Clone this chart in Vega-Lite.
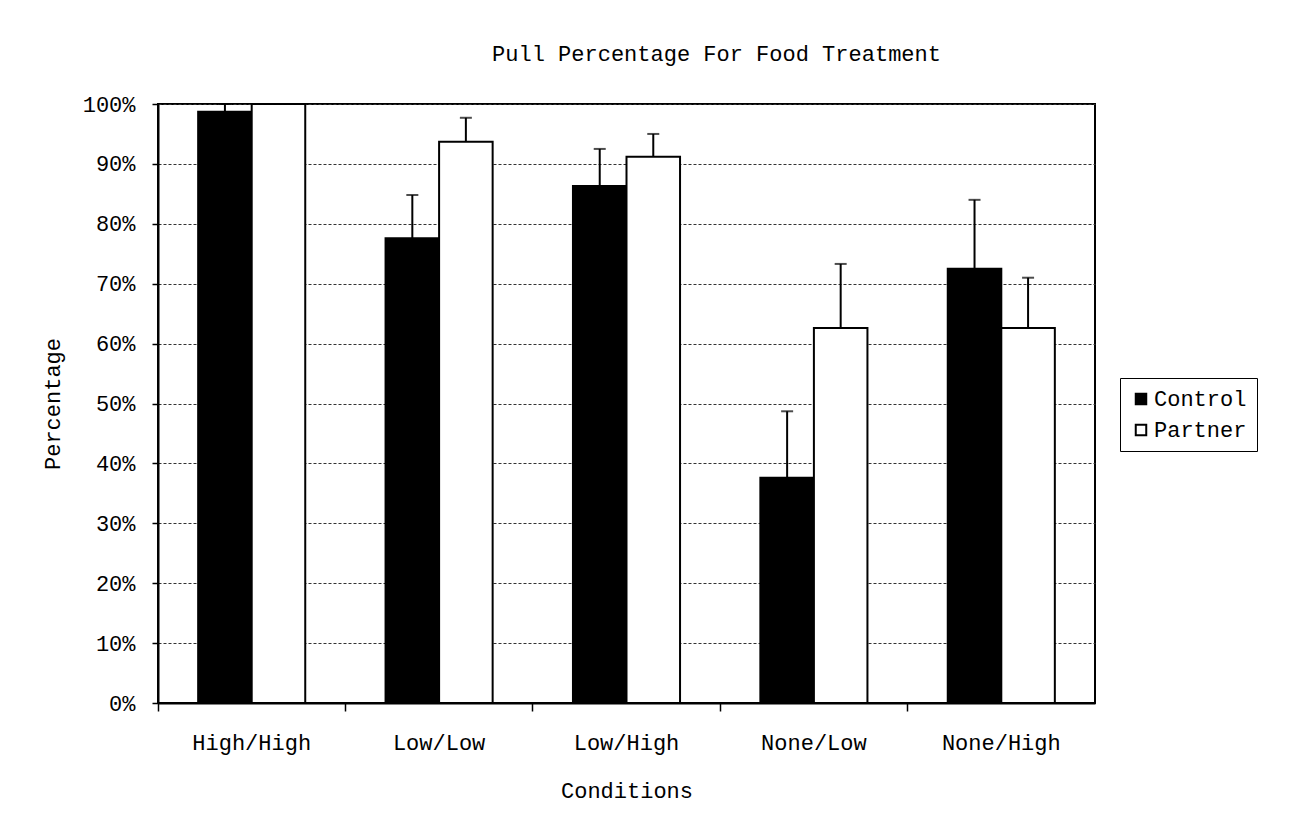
{
  "$schema": "https://vega.github.io/schema/vega-lite/v6.json",
  "autosize": {"type": "none"},
  "width": 937,
  "height": 599,
  "padding": {"left": 158, "top": 104, "right": 194, "bottom": 120},
  "background": "white",
  "title": {
    "text": "Pull Percentage For Food Treatment",
    "font": "Liberation Mono",
    "fontSize": 22,
    "fontWeight": "normal",
    "color": "black",
    "dx": 90,
    "offset": 27
  },
  "config": {
    "view": {"stroke": "black", "strokeWidth": 2},
    "font": "Liberation Mono"
  },
  "data": {
    "values": [
      {"condition": "High/High", "group": "Control", "value": 98.7, "upper": 100},
      {"condition": "High/High", "group": "Partner", "value": 100, "upper": 100},
      {"condition": "Low/Low", "group": "Control", "value": 77.6, "upper": 84.8},
      {"condition": "Low/Low", "group": "Partner", "value": 93.7, "upper": 97.7},
      {"condition": "Low/High", "group": "Control", "value": 86.3, "upper": 92.5},
      {"condition": "Low/High", "group": "Partner", "value": 91.2, "upper": 95.0},
      {"condition": "None/Low", "group": "Control", "value": 37.6, "upper": 48.7},
      {"condition": "None/Low", "group": "Partner", "value": 62.6, "upper": 73.3},
      {"condition": "None/High", "group": "Control", "value": 72.5, "upper": 84.0},
      {"condition": "None/High", "group": "Partner", "value": 62.6, "upper": 71.0}
    ]
  },
  "encoding": {
    "x": {
      "field": "condition",
      "type": "nominal",
      "sort": ["High/High", "Low/Low", "Low/High", "None/Low", "None/High"],
      "scale": {"paddingInner": 0, "paddingOuter": 0},
      "axis": {
        "title": "Conditions",
        "titleFont": "Liberation Mono",
        "titleFontSize": 22,
        "titleFontWeight": "normal",
        "titleColor": "black",
        "titlePadding": 27,
        "labelFont": "Liberation Mono",
        "labelFontSize": 22,
        "labelColor": "black",
        "labelAngle": 0,
        "labelPadding": 21,
        "bandPosition": 0,
        "tickSize": 8,
        "tickColor": "black",
        "tickWidth": 1.5,
        "domainColor": "black",
        "domainWidth": 2
      }
    },
    "xOffset": {
      "field": "group",
      "type": "nominal",
      "scale": {"paddingOuter": 0.75, "paddingInner": 0}
    }
  },
  "layer": [
    {
      "mark": {"type": "bar", "stroke": "black", "strokeWidth": 2},
      "encoding": {
        "y": {
          "field": "value",
          "type": "quantitative",
          "scale": {"domain": [0, 100], "nice": false},
          "axis": {
            "title": "Percentage",
            "titleFont": "Liberation Mono",
            "titleFontSize": 22,
            "titleFontWeight": "normal",
            "titleColor": "black",
            "titlePadding": 18,
            "values": [0, 10, 20, 30, 40, 50, 60, 70, 80, 90, 100],
            "labelExpr": "datum.value + '%'",
            "labelFont": "Liberation Mono",
            "labelFontSize": 22,
            "labelColor": "black",
            "labelPadding": 17,
            "tickSize": 6,
            "tickColor": "black",
            "tickWidth": 1.5,
            "domainColor": "black",
            "domainWidth": 2,
            "grid": true,
            "gridColor": "#333333",
            "gridDash": [3, 2],
            "gridWidth": 1
          }
        },
        "fill": {
          "field": "group",
          "type": "nominal",
          "scale": {"domain": ["Control", "Partner"], "range": ["black", "white"]},
          "legend": {
            "title": null,
            "orient": "none",
            "legendX": 962,
            "legendY": 274,
            "strokeColor": "black",
            "padding": 10,
            "symbolType": "square",
            "symbolSize": 110,
            "symbolStrokeColor": "black",
            "symbolStrokeWidth": 2,
            "labelFont": "Liberation Mono",
            "labelFontSize": 22,
            "labelColor": "black",
            "labelOffset": 2,
            "rowPadding": 9
          }
        }
      }
    },
    {
      "mark": {"type": "rule", "color": "black", "strokeWidth": 2},
      "encoding": {
        "y": {"field": "value", "type": "quantitative"},
        "y2": {"field": "upper"}
      }
    },
    {
      "mark": {"type": "tick", "color": "black", "thickness": 2, "size": 12},
      "encoding": {
        "y": {"field": "upper", "type": "quantitative"}
      }
    }
  ]
}
